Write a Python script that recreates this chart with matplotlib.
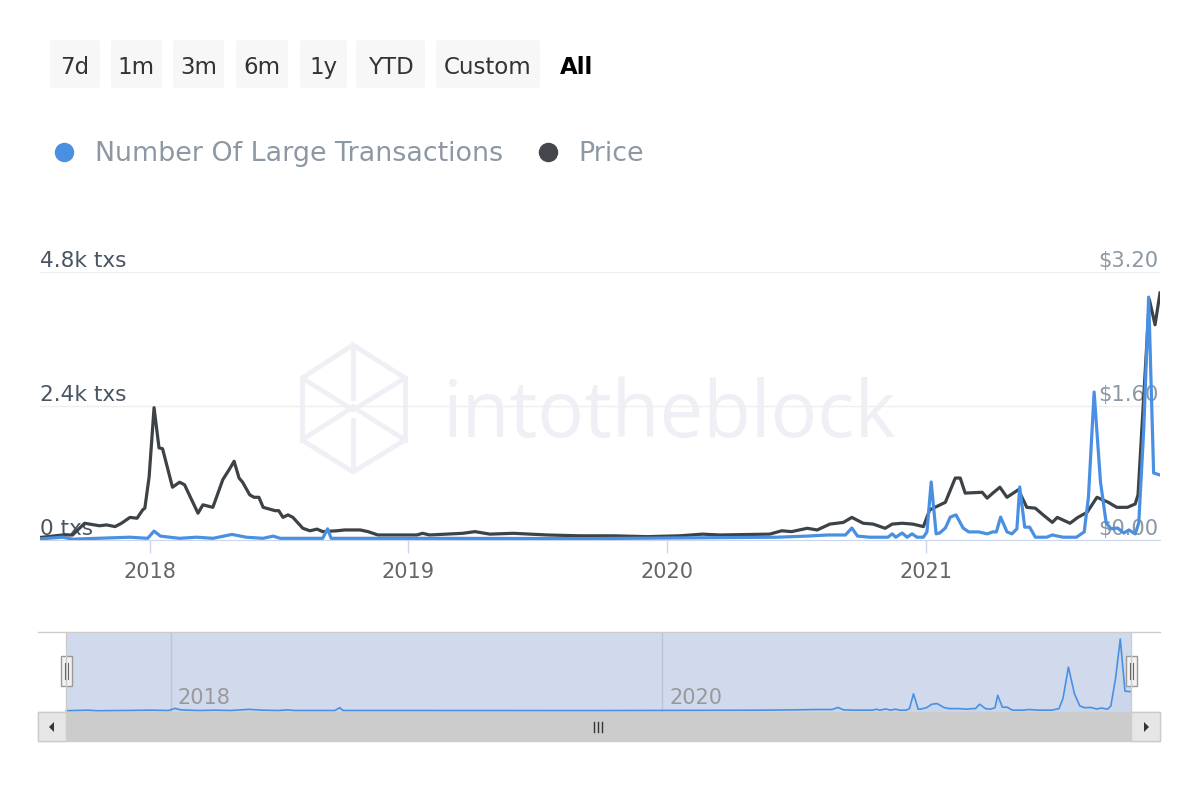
import matplotlib
matplotlib.use('Agg')
import matplotlib.pyplot as plt
import matplotlib.dates as mdates
import pandas as pd
from matplotlib.patches import FancyBboxPatch, Rectangle, Polygon
from matplotlib.lines import Line2D

plt.rcParams['font.family'] = ['DejaVu Sans']

# Price (USD)
price_dates = ['2017-07-30', '2017-08-31', '2017-09-14', '2017-10-01', '2017-10-22', '2017-11-01',
               '2017-11-13', '2017-11-22', '2017-12-04', '2017-12-14', '2017-12-22', '2017-12-25',
               '2017-12-31', '2018-01-07', '2018-01-14', '2018-01-19', '2018-02-02', '2018-02-12',
               '2018-02-19', '2018-03-10', '2018-03-17', '2018-03-31', '2018-04-14', '2018-04-23',
               '2018-04-30', '2018-05-07', '2018-05-12', '2018-05-22', '2018-05-28', '2018-06-04',
               '2018-06-10', '2018-06-27', '2018-07-02', '2018-07-08', '2018-07-15', '2018-07-22',
               '2018-08-05', '2018-08-15', '2018-08-25', '2018-09-02', '2018-09-22', '2018-10-03',
               '2018-10-25', '2018-11-05', '2018-11-19', '2018-12-16', '2019-01-13', '2019-01-21',
               '2019-01-31', '2019-03-19', '2019-04-05', '2019-04-26', '2019-05-29', '2019-06-22',
               '2019-07-16', '2019-08-31', '2019-10-17', '2019-12-04', '2020-01-19', '2020-02-20',
               '2020-03-16', '2020-05-25', '2020-06-11', '2020-06-25', '2020-07-17', '2020-07-31',
               '2020-08-18', '2020-09-06', '2020-09-18', '2020-10-04', '2020-10-18', '2020-11-04',
               '2020-11-14', '2020-11-28', '2020-12-13', '2020-12-28', '2021-01-06', '2021-01-28',
               '2021-02-11', '2021-02-18', '2021-02-25', '2021-03-21', '2021-03-28', '2021-04-05',
               '2021-04-15', '2021-04-25', '2021-05-11', '2021-05-23', '2021-06-04', '2021-06-15',
               '2021-06-28', '2021-07-05', '2021-07-23', '2021-08-03', '2021-08-16', '2021-08-30',
               '2021-09-15', '2021-09-27', '2021-10-12', '2021-10-23', '2021-10-27', '2021-11-12',
               '2021-11-20', '2021-11-27']
price_usd = [0.03, 0.06, 0.06, 0.20, 0.17, 0.18, 0.16, 0.20, 0.27, 0.26, 0.36, 0.38,
             0.75, 1.58, 1.10, 1.09, 0.63, 0.69, 0.66, 0.32, 0.42, 0.39, 0.72, 0.84,
             0.94, 0.74, 0.69, 0.54, 0.51, 0.51, 0.39, 0.35, 0.35, 0.27, 0.30, 0.27,
             0.14, 0.11, 0.13, 0.10, 0.11, 0.12, 0.12, 0.10, 0.06, 0.06, 0.06, 0.08,
             0.06, 0.08, 0.10, 0.07, 0.08, 0.07, 0.06, 0.05, 0.05, 0.04, 0.05, 0.07,
             0.06, 0.07, 0.11, 0.10, 0.14, 0.12, 0.19, 0.21, 0.27, 0.20, 0.19, 0.14,
             0.19, 0.20, 0.19, 0.16, 0.36, 0.45, 0.74, 0.74, 0.56, 0.57, 0.50, 0.56,
             0.63, 0.51, 0.60, 0.39, 0.38, 0.30, 0.21, 0.27, 0.20, 0.27, 0.33, 0.51,
             0.45, 0.39, 0.39, 0.43, 0.54, 2.87, 2.57, 2.95]

# Number of large transactions
tx_dates = ['2017-07-30', '2017-08-31', '2017-09-14', '2017-12-04', '2017-12-29', '2018-01-07',
            '2018-01-16', '2018-01-29', '2018-02-12', '2018-03-08', '2018-03-31', '2018-04-27',
            '2018-05-17', '2018-06-10', '2018-06-24', '2018-07-04', '2018-09-02', '2018-09-09',
            '2018-09-14', '2019-01-18', '2019-09-14', '2020-06-04', '2020-07-17', '2020-08-15',
            '2020-09-09', '2020-09-18', '2020-09-26', '2020-10-13', '2020-11-08', '2020-11-14',
            '2020-11-19', '2020-11-28', '2020-12-05', '2020-12-12', '2020-12-19', '2020-12-28',
            '2021-01-02', '2021-01-08', '2021-01-15', '2021-01-20', '2021-01-28', '2021-02-04',
            '2021-02-12', '2021-02-22', '2021-03-02', '2021-03-16', '2021-03-28', '2021-04-05',
            '2021-04-10', '2021-04-16', '2021-04-25', '2021-05-02', '2021-05-09', '2021-05-13',
            '2021-05-20', '2021-05-27', '2021-06-04', '2021-06-20', '2021-06-28', '2021-07-13',
            '2021-08-01', '2021-08-12', '2021-08-18', '2021-08-26', '2021-09-04', '2021-09-12',
            '2021-09-19', '2021-09-28', '2021-10-07', '2021-10-14', '2021-10-23', '2021-10-28',
            '2021-11-04', '2021-11-11', '2021-11-18', '2021-11-27']
tx_count = [20, 50, 15, 50, 30, 160, 70, 50, 30, 50, 30, 100,
            50, 30, 70, 30, 30, 200, 30, 30, 25, 50, 70, 90,
            90, 215, 70, 50, 50, 110, 50, 125, 50, 110, 50, 50,
            145, 1040, 110, 125, 215, 410, 450, 215, 145, 145, 110, 145,
            145, 410, 145, 110, 200, 950, 230, 230, 50, 50, 90, 50,
            50, 145, 770, 2650, 1040, 305, 200, 215, 125, 180, 110, 305,
            1970, 4350, 1200, 1165]

tx_ticks = [0, 2400, 4800]
price_ticks = [0, 1.6, 3.2]
range_buttons = ['7d', '1m', '3m', '6m', '1y', 'YTD', 'Custom']

price_dates = pd.to_datetime(price_dates)
tx_dates = pd.to_datetime(tx_dates)

BLUE = '#4a90e2'
DARK = '#3d4246'

W, H = 1200, 800
def fx(x):
    return x / W
def fy(y):
    return 1 - y / H

fig = plt.figure(figsize=(12, 8), dpi=100)

# watermark
fig.text(fx(443), fy(437), 'intotheblock', fontsize=56, color='#eef0f5',
         family=['Open Sans', 'DejaVu Sans'],
         ha='left', va='baseline', zorder=-1)
logo = [[(353, 345), (405, 378), (353, 410), (302, 378), (353, 345)],
        [(353, 350), (353, 398)],
        [(302, 378), (302, 440)],
        [(353, 407), (405, 440), (353, 472), (302, 440), (353, 407)],
        [(405, 378), (405, 440)],
        [(353, 420), (353, 470)]]
for seg in logo:
    fig.add_artist(Line2D([fx(p[0]) for p in seg], [fy(p[1]) for p in seg],
                          color='#eef0f5', lw=3.5, zorder=-1, solid_joinstyle='round'))

# range selector buttons
btn_x = [(50, 100), (111, 162), (173, 224), (236, 288), (300, 347), (356, 425), (436, 540)]
for label, (x0, x1) in zip(range_buttons, btn_x):
    fig.add_artist(FancyBboxPatch((fx(x0), fy(88)), fx(x1) - fx(x0), fy(40) - fy(88),
                                  boxstyle='round,pad=0,rounding_size=0.003',
                                  transform=fig.transFigure, fc='#f7f7f7', ec='none'))
    fig.text(fx((x0 + x1) / 2), fy(65), label, ha='center', va='center_baseline',
             fontsize=16.5, color='#333333')
fig.text(fx(577), fy(65), 'All', ha='center', va='center_baseline', fontsize=16.5,
         color='black', fontweight='bold')

# legend
fig.add_artist(Line2D([fx(64)], [fy(152)], marker='o', markersize=13, color=BLUE, lw=0))
fig.text(fx(95), fy(151), 'Number Of Large Transactions', ha='left', va='center_baseline',
         fontsize=19.4, color='#8c98a4')
fig.add_artist(Line2D([fx(548)], [fy(152)], marker='o', markersize=13, color='#43474b', lw=0))
fig.text(fx(578), fy(151), 'Price', ha='left', va='center_baseline', fontsize=19.4, color='#8c98a4')

# main chart
ax = fig.add_axes([fx(40), fy(540), fx(1160) - fx(40), fy(272) - fy(540)])
ax.patch.set_visible(False)
axt = ax.twinx()

ax.plot(price_dates, price_usd, color=DARK, lw=2.3, solid_joinstyle='round', zorder=2)
axt.plot(tx_dates, tx_count, color=BLUE, lw=2.3, solid_joinstyle='round', zorder=2)

ax.set_ylim(0, 3.2)
axt.set_ylim(0, 4800)
ax.set_xlim(price_dates[0], price_dates[-1])

for v in price_ticks[1:]:
    ax.axhline(v, color='#efefef', lw=1, zorder=0)

for a in (ax, axt):
    for s in a.spines.values():
        s.set_visible(False)
    a.set_yticks([])
ax.spines['bottom'].set_visible(True)
ax.spines['bottom'].set_color('#ccd6eb')

ax.xaxis.set_major_locator(mdates.YearLocator())
ax.xaxis.set_major_formatter(mdates.DateFormatter('%Y'))
ax.tick_params(axis='x', color='#ccd6eb', length=9.5, width=1, labelsize=15,
               labelcolor='#666666', pad=6)

for v in tx_ticks:
    label = f'{v / 1000:g}k txs' if v else '0 txs'
    ax.annotate(label, xy=(0, v), xycoords=axt.get_yaxis_transform(), xytext=(0, 3.5),
                textcoords='offset points', ha='left', va='baseline', fontsize=15.6,
                color='#4a5563', zorder=1)
for v in price_ticks:
    ax.annotate(f'${v:.2f}', xy=(1, v), xycoords=ax.get_yaxis_transform(), xytext=(-1, 3.5),
                textcoords='offset points', ha='right', va='baseline', fontsize=15.2,
                color='#8c98a4', zorder=1)

# navigator
nav = fig.add_axes([fx(40), fy(712), fx(1160) - fx(40), fy(632) - fy(712)])
nav.set_xlim(pd.Timestamp('2017-06-21'), pd.Timestamp('2022-01-09'))
nav.set_ylim(-60, 4770)
nav.axis('off')
nav.axvspan(tx_dates[0], tx_dates[-1], color='#d1daed', lw=0, zorder=0)
for yr in [2018, 2020]:
    d = pd.Timestamp(f'{yr}-01-01')
    nav.axvline(d, color='#bcc5d8', lw=1, zorder=1)
    nav.annotate(str(yr), xy=(d, 0), xytext=(5, 5), textcoords='offset points',
                 ha='left', va='baseline', fontsize=15, color='#999999', zorder=1)
nav.fill_between(tx_dates, tx_count, -60, color=BLUE, alpha=0.05, lw=0, zorder=2)
nav.plot(tx_dates, tx_count, color=BLUE, lw=1.2, zorder=3)

# navigator outline
fig.add_artist(Line2D([fx(38), fx(1160)], [fy(632), fy(632)], color='#cccccc', lw=1))
for x in (66, 1131):
    fig.add_artist(Line2D([fx(x), fx(x)], [fy(632), fy(712)], color='#cccccc', lw=1))

# scrollbar
fig.add_artist(Rectangle((fx(38), fy(741)), fx(1160) - fx(38), fy(712) - fy(741),
                         transform=fig.transFigure, fc='#cccccc', ec='#cccccc', lw=1))
for x0, x1 in [(38, 66), (1131, 1160)]:
    fig.add_artist(Rectangle((fx(x0), fy(741)), fx(x1) - fx(x0), fy(712) - fy(741),
                             transform=fig.transFigure, fc='#e6e6e6', ec='#cccccc', lw=1))
fig.add_artist(Polygon([(fx(49), fy(727)), (fx(54), fy(722)), (fx(54), fy(732))], closed=True,
                       transform=fig.transFigure, fc='#333333', ec='none'))
fig.add_artist(Polygon([(fx(1149), fy(727)), (fx(1144), fy(722)), (fx(1144), fy(732))], closed=True,
                       transform=fig.transFigure, fc='#333333', ec='none'))
for x in (594, 598, 602):
    fig.add_artist(Line2D([fx(x), fx(x)], [fy(722), fy(732)], color='#333333', lw=1))

# navigator handles
for xc in (66, 1131):
    fig.add_artist(Rectangle((fx(xc - 5), fy(686)), fx(11), fy(656) - fy(686),
                             transform=fig.transFigure, fc='#f2f2f2', ec='#999999', lw=1))
    for dx in (-1.5, 1.5):
        fig.add_artist(Line2D([fx(xc + dx), fx(xc + dx)], [fy(663), fy(679)],
                              color='#666666', lw=0.8))

fig.savefig('out.png', dpi=100, facecolor='white')
